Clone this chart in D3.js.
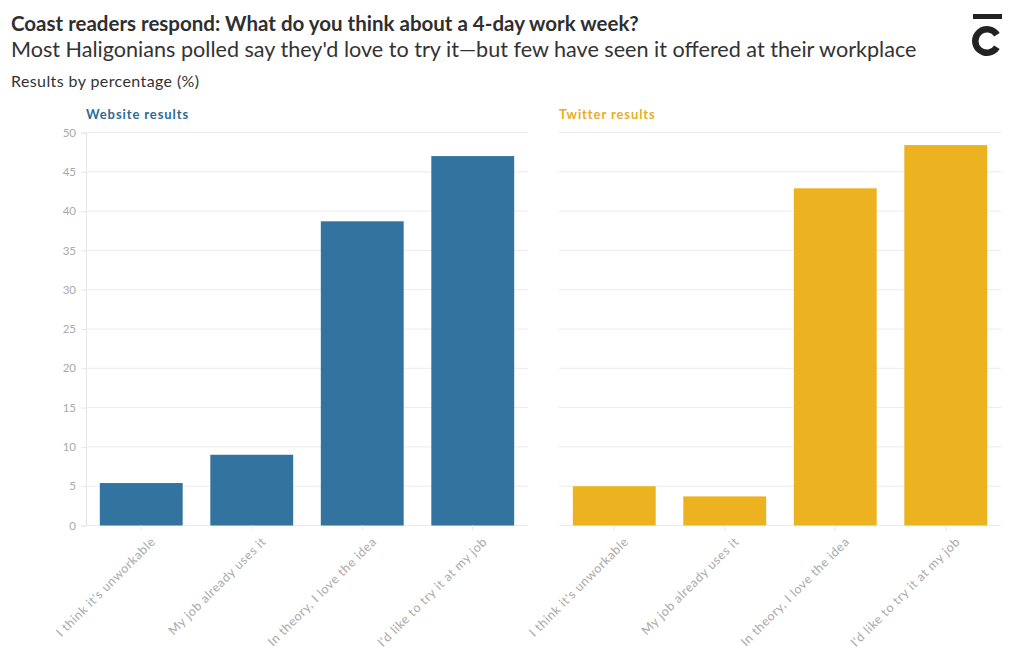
<!DOCTYPE html>
<html>
<head>
<meta charset="utf-8">
<script src="https://cdn.jsdelivr.net/npm/d3@7"></script>
<style>
  body { margin: 0; background: #fff; }
  svg { display: block; font-family: "Source Sans Pro", Lato, "Noto Sans", sans-serif; }
</style>
</head>
<body>
<svg id="chart" width="1020" height="650"></svg>
<script>
const categories = ["I think it's unworkable", "My job already uses it", "In theory, I love the idea", "I'd like to try it at my job"];
const websiteValues = [5.4, 9.0, 38.7, 47.0];
const twitterValues = [5.0, 3.7, 42.9, 48.4];
const yTicks = [0, 5, 10, 15, 20, 25, 30, 35, 40, 45, 50];

const svg = d3.select("#chart");

svg.append("text").attr("x", 11).attr("y", 31)
  .attr("font-size", 20.5).attr("font-weight", 700).attr("fill", "#2f2f2f")
  .text("Coast readers respond: What do you think about a 4-day work week?");
svg.append("text").attr("x", 11).attr("y", 57)
  .attr("font-size", 21.6).attr("fill", "#333")
  .text("Most Haligonians polled say they'd love to try it\u2014but few have seen it offered at their workplace");
svg.append("text").attr("x", 11).attr("y", 87)
  .attr("font-size", 16).attr("fill", "#333").attr("letter-spacing", 0.4)
  .text("Results by percentage (%)");

// logo
const logo = svg.append("g");
logo.append("rect").attr("x", 973).attr("y", 14).attr("width", 29).attr("height", 5).attr("fill", "#222");
logo.append("path")
  .attr("d", d3.arc()({innerRadius: 8.5, outerRadius: 15, startAngle: Math.PI * 0.68, endAngle: Math.PI * 2.32}))
  .attr("transform", "translate(987,41)")
  .attr("fill", "#222");

const y = d3.scaleLinear().domain([0, 50]).range([525.5, 132.5]);

const panels = [
  {title: "Website results", values: websiteValues, color: "#33739f", titleColor: "#2c6b96", x0: 86, x1: 528, yLabels: true},
  {title: "Twitter results", values: twitterValues, color: "#edb220", titleColor: "#e9ad1d", x0: 559, x1: 1001, yLabels: false}
];

panels.forEach(p => {
  const g = svg.append("g");
  const x = d3.scaleBand().domain(categories).range([p.x0, p.x1]).paddingInner(0.25).paddingOuter(0.125);

  g.append("text").attr("x", p.x0).attr("y", 119)
    .attr("font-size", 13).attr("font-weight", 700).attr("fill", p.titleColor)
    .attr("letter-spacing", 0.9)
    .text(p.title);

  g.append("g").selectAll("line").data(yTicks).join("line")
    .attr("x1", p.x0).attr("x2", p.x1)
    .attr("y1", d => y(d)).attr("y2", d => y(d))
    .attr("stroke", "#ececec").attr("stroke-width", 1);

  if (p.yLabels) {
    const ya = g.append("g").attr("transform", `translate(${p.x0},0)`)
      .call(d3.axisLeft(y).tickValues(yTicks).tickSize(5).tickPadding(5));
    ya.select(".domain").attr("stroke", "#e6e6e6");
    ya.selectAll(".tick line").attr("stroke", "#e6e6e6");
    ya.selectAll(".tick text").attr("fill", "#aaa").attr("font-size", 11.5)
      .attr("font-family", "\"Source Sans Pro\", Lato, sans-serif");
  }

  g.append("g").selectAll("rect").data(p.values).join("rect")
    .attr("x", (d, i) => x(categories[i]))
    .attr("width", x.bandwidth())
    .attr("y", d => y(d))
    .attr("height", d => y(0) - y(d))
    .attr("fill", p.color);

  const xa = g.append("g").attr("transform", `translate(0,${y(0)})`)
    .call(d3.axisBottom(x).tickSize(5).tickPadding(4));
  xa.select(".domain").remove();
  xa.selectAll(".tick line").attr("stroke", "#e6e6e6");
  xa.selectAll(".tick text")
    .attr("fill", "#aaa").attr("font-size", 12.5)
    .attr("letter-spacing", 0.6)
    .attr("font-family", "\"Source Sans Pro\", Lato, sans-serif")
    .attr("text-anchor", "end")
    .attr("dy", "0.3em")
    .attr("transform", "translate(6,8) rotate(-45)");
});
</script>
</body>
</html>
